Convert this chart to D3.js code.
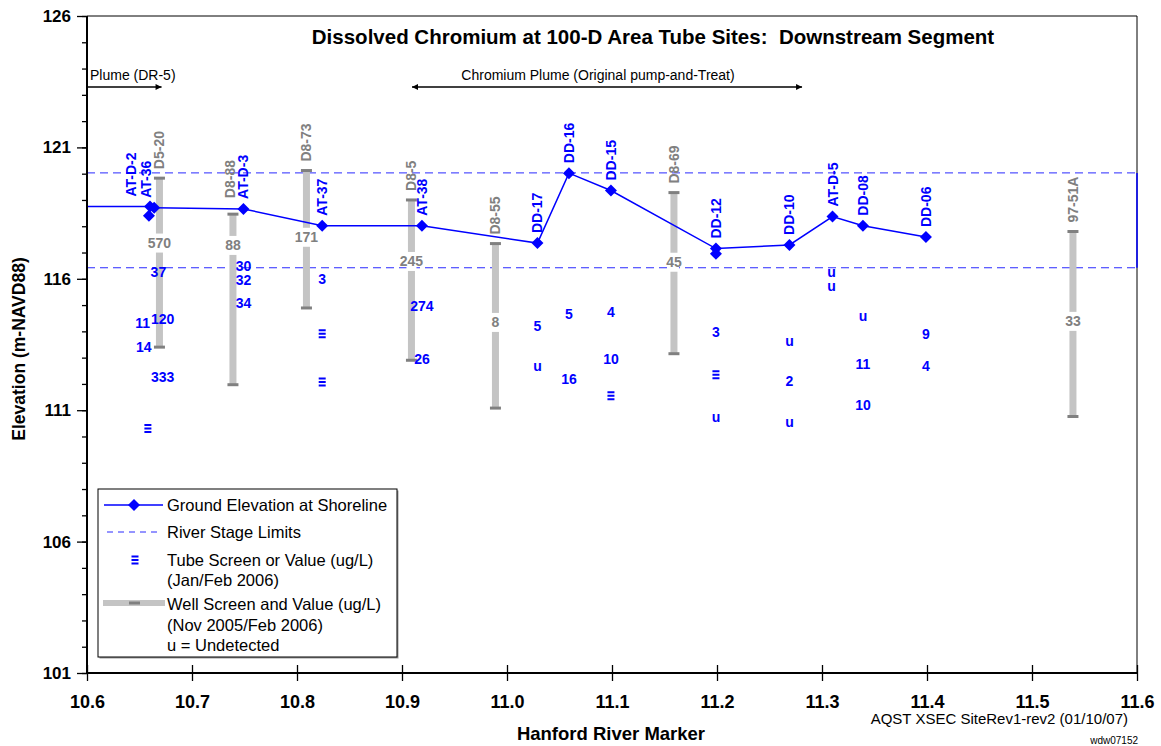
<!DOCTYPE html>
<html>
<head>
<meta charset="utf-8">
<script src="https://cdn.jsdelivr.net/npm/d3@7"></script>
<style>
body { margin: 0; background: #fff; }
svg text { font-family: "Liberation Sans", Arial, sans-serif; }
</style>
</head>
<body>
<div id="chart"></div>
<script>
//ground elevation at shoreline (tube sites), first point only starts the line
const groundSite = [null, "AT-D-2", "AT-36", "AT-D-3", "AT-37", "AT-38", "DD-17", "DD-16", "DD-15", "DD-12", "DD-10", "AT-D-5", "DD-08", "DD-06"];
const groundRM   = [10.600, 10.660, 10.664, 10.749, 10.824, 10.919, 11.029, 11.059, 11.099, 11.199, 11.269, 11.310, 11.339, 11.399];
const groundElev = [118.75, 118.75, 118.70, 118.66, 118.02, 118.02, 117.36, 120.02, 119.36, 117.15, 117.29, 118.37, 118.02, 117.59];
//second tube at the same site, not on the line
const extraRM   = [10.659, 11.199];
const extraElev = [118.40, 116.95];

//river stage limits
const riverStage = [120.03, 116.42];

//wells: screen top / bottom and value
const wellSite   = ["D5-20", "D8-88", "D8-73", "D8-5", "D8-55", "D8-69", "97-51A"];
const wellRM     = [10.669, 10.739, 10.809, 10.909, 10.989, 11.159, 11.539];
const wellTop    = [119.83, 118.46, 120.12, 119.00, 117.34, 119.28, 117.80];
const wellBottom = [113.40, 111.97, 114.89, 112.90, 111.08, 113.15, 110.76];
const wellValue  = ["570", "88", "171", "245", "8", "45", "33"];
const wellValueElev = [117.36, 117.27, 117.58, 116.66, 114.34, 116.63, 114.38];

//tube values ("s" = tube screen without value)
const tubeValRM   = [10.653, 10.654, 10.658, 10.668, 10.672, 10.672,
                     10.749, 10.749, 10.749, 10.824, 10.824, 10.824,
                     10.919, 10.919, 11.029, 11.029, 11.059, 11.059,
                     11.099, 11.099, 11.099, 11.199, 11.199, 11.199,
                     11.269, 11.269, 11.269, 11.309, 11.309,
                     11.339, 11.339, 11.339, 11.399, 11.399];
const tubeValElev = [114.33, 113.41, 110.30, 116.27, 114.48, 112.27,
                     116.47, 115.96, 115.08, 116.00, 113.91, 112.07,
                     114.95, 112.95, 114.22, 112.70, 114.67, 112.19,
                     114.73, 112.96, 111.55, 113.97, 112.35, 110.73,
                     113.62, 112.12, 110.55, 116.25, 115.71,
                     114.59, 112.77, 111.21, 113.91, 112.67];
const tubeValText = ["11", "14", "s", "37", "120", "333",
                     "30", "32", "34", "3", "s", "s",
                     "274", "26", "5", "u", "5", "16",
                     "4", "10", "s", "3", "s", "u",
                     "u", "2", "u", "u", "u",
                     "u", "11", "10", "9", "4"];

//plume annotations
const annoText  = ["Plume (DR-5)", "Chromium Plume (Original pump-and-Treat)"];
const annoStart = [10.600, 10.9095];
const annoEnd   = [10.671, 11.281];

const xTicks = [10.6, 10.7, 10.8, 10.9, 11.0, 11.1, 11.2, 11.3, 11.4, 11.5, 11.6];
const yTicks = [101, 106, 111, 116, 121, 126];

const width = 1161;
const height = 746;
const pLeft = 87, pRight = 1137, pTop = 16, pBottom = 673;
const blue = "#0000ff";
const grey = "#808080";

const svg = d3.select("#chart")
    .append("svg")
    .attr("width", width)
    .attr("height", height);

const x = d3.scaleLinear().domain([10.6, 11.6]).range([pLeft, pRight]);
const y = d3.scaleLinear().domain([101, 126]).range([pBottom, pTop]);

//arrow heads
const defs = svg.append("defs");
defs.append("marker")
    .attr("id", "arrowEnd")
    .attr("viewBox", "0 0 10 10")
    .attr("refX", 10).attr("refY", 5)
    .attr("markerWidth", 7).attr("markerHeight", 6)
    .attr("markerUnits", "userSpaceOnUse")
    .attr("orient", "auto")
    .append("path").attr("d", "M0,0L10,5L0,10Z").attr("fill", "#000");
defs.append("marker")
    .attr("id", "arrowStart")
    .attr("viewBox", "0 0 10 10")
    .attr("refX", 0).attr("refY", 5)
    .attr("markerWidth", 7).attr("markerHeight", 6)
    .attr("markerUnits", "userSpaceOnUse")
    .attr("orient", "auto")
    .append("path").attr("d", "M10,0L0,5L10,10Z").attr("fill", "#000");

//frame (top and right)
svg.append("path")
    .attr("d", `M${pLeft},${pTop}H${pRight}V${pBottom}`)
    .attr("fill", "none")
    .attr("stroke", "#000")
    .attr("stroke-width", 1);

//river stage limits
svg.selectAll(".stage")
    .data(riverStage)
    .enter()
    .append("line")
    .attr("class", "stage")
    .attr("x1", pLeft).attr("x2", pRight)
    .attr("y1", d => y(d)).attr("y2", d => y(d))
    .attr("stroke", "#2a2aff")
    .attr("stroke-width", 1)
    .attr("stroke-dasharray", "8,5");
svg.append("line")
    .attr("x1", pRight).attr("x2", pRight)
    .attr("y1", y(riverStage[0])).attr("y2", y(riverStage[1]))
    .attr("stroke", blue)
    .attr("stroke-width", 1.5);

//wells
wellSite.forEach(function (s, i) {
    const cx = x(wellRM[i]);
    svg.append("rect")
        .attr("x", cx - 3.5)
        .attr("y", y(wellTop[i]))
        .attr("width", 7)
        .attr("height", y(wellBottom[i]) - y(wellTop[i]))
        .attr("fill", "#c4c4c4");
    [wellTop[i], wellBottom[i]].forEach(function (e) {
        svg.append("rect")
            .attr("x", cx - 5.5)
            .attr("y", y(e) - 1.5)
            .attr("width", 11)
            .attr("height", 3)
            .attr("fill", grey);
    });
    //white gap behind the value
    svg.append("rect")
        .attr("x", cx - 5)
        .attr("y", y(wellValueElev[i]) - 9.5)
        .attr("width", 10)
        .attr("height", 19)
        .attr("fill", "#fff");
    svg.append("text")
        .attr("x", cx)
        .attr("y", y(wellValueElev[i]))
        .attr("dy", "0.36em")
        .attr("text-anchor", "middle")
        .attr("font-size", 14)
        .attr("font-weight", "bold")
        .attr("fill", grey)
        .text(wellValue[i]);
});

//site labels, small nudges where labels crowd
const nudge = { "AT-D-2": [-19, 0], "AT-36": [-8, 0], "D8-88": [-3, -7] };
function siteLabel(name, rm, e, gap, color) {
    const n = nudge[name] || [0, 0];
    const lx = x(rm) + n[0];
    const ly = y(e) - gap + n[1];
    svg.append("text")
        .attr("transform", `translate(${lx},${ly}) rotate(-90)`)
        .attr("dy", "0.36em")
        .attr("font-size", 14)
        .attr("font-weight", "bold")
        .attr("fill", color)
        .text(name);
}
wellSite.forEach((s, i) => siteLabel(s, wellRM[i], wellTop[i], 9, grey));
groundSite.forEach(function (s, i) {
    if (s) siteLabel(s, groundRM[i], groundElev[i], 10, blue);
});

//tube values
const screenIcon = "M-3.5,-4.5h7v2h-7zM-3.5,-1h7v2h-7zM-3.5,2.5h7v2h-7z";
tubeValText.forEach(function (t, i) {
    const cx = x(tubeValRM[i]);
    const cy = y(tubeValElev[i]);
    if (t === "s") {
        svg.append("path")
            .attr("transform", `translate(${cx},${cy})`)
            .attr("d", screenIcon)
            .attr("fill", blue);
    } else {
        svg.append("text")
            .attr("x", cx)
            .attr("y", cy)
            .attr("dy", "0.36em")
            .attr("text-anchor", "middle")
            .attr("font-size", 14)
            .attr("font-weight", "bold")
            .attr("fill", blue)
            .text(t);
    }
});

//ground elevation line
const groundPts = groundRM.map((r, i) => [r, groundElev[i]]);
svg.append("path")
    .datum(groundPts)
    .attr("d", d3.line().x(d => x(d[0])).y(d => y(d[1])))
    .attr("fill", "none")
    .attr("stroke", blue)
    .attr("stroke-width", 1.5);

const diamond = "M0,-6L6,0L0,6L-6,0Z";
const markerPts = groundPts.filter((d, i) => groundSite[i])
    .concat(extraRM.map((r, i) => [r, extraElev[i]]));
svg.selectAll(".diamond")
    .data(markerPts)
    .enter()
    .append("path")
    .attr("class", "diamond")
    .attr("transform", d => `translate(${x(d[0])},${y(d[1])})`)
    .attr("d", diamond)
    .attr("fill", blue);

//plume arrows
annoText.forEach(function (t, i) {
    const line = svg.append("line")
        .attr("x1", x(annoStart[i])).attr("x2", x(annoEnd[i]))
        .attr("y1", 87).attr("y2", 87)
        .attr("stroke", "#000")
        .attr("stroke-width", 1.3)
        .attr("marker-end", "url(#arrowEnd)");
    if (i > 0) line.attr("marker-start", "url(#arrowStart)");
    svg.append("text")
        .attr("x", i > 0 ? (x(annoStart[i]) + x(annoEnd[i])) / 2 - 9 : x(annoStart[i]) + 3)
        .attr("y", 80)
        .attr("text-anchor", i > 0 ? "middle" : "start")
        .attr("font-size", 14)
        .attr("fill", "#000")
        .text(t);
});

//axes
const yAxis = svg.append("g")
    .attr("transform", `translate(${pLeft},0)`)
    .call(d3.axisLeft(y).tickValues(d3.range(101, 127, 1)).tickSize(5).tickFormat(""));
yAxis.select(".domain").remove();
const yMajor = svg.append("g")
    .attr("transform", `translate(${pLeft},0)`)
    .call(d3.axisLeft(y).tickValues(yTicks).tickSize(10).tickPadding(6).tickFormat(d3.format("d")));
yMajor.select(".domain").attr("stroke-width", 2).attr("d", `M0,${pTop}V${pBottom}`);
yMajor.selectAll("text")
    .attr("font-size", 17)
    .attr("font-weight", "bold")
    .attr("fill", "#000")
    .style("font-family", "'Liberation Sans', Arial, sans-serif");
svg.selectAll("g.tick line").attr("stroke-width", 1.3);

const xAxis = svg.append("g")
    .attr("transform", `translate(0,${pBottom})`)
    .call(d3.axisBottom(x).tickValues(xTicks).tickSize(8).tickPadding(14).tickFormat(d3.format(".1f")));
xAxis.select(".domain").attr("stroke-width", 2).attr("d", `M${pLeft},0H${pRight}`);
xAxis.selectAll(".tick line").attr("y1", -8).attr("y2", 8).attr("stroke-width", 1.3);
xAxis.selectAll("text")
    .attr("font-size", 18)
    .attr("font-weight", "bold")
    .attr("fill", "#000")
    .style("font-family", "'Liberation Sans', Arial, sans-serif");

//titles
svg.append("text")
    .attr("x", 653)
    .attr("y", 44)
    .attr("text-anchor", "middle")
    .attr("font-size", 20.5)
    .attr("font-weight", "bold")
    .style("white-space", "pre")
    .text("Dissolved Chromium at 100-D Area Tube Sites:  Downstream Segment");

svg.append("text")
    .attr("x", 611)
    .attr("y", 740)
    .attr("text-anchor", "middle")
    .attr("font-size", 18.5)
    .attr("font-weight", "bold")
    .text("Hanford River Marker");

svg.append("text")
    .attr("transform", "translate(25,349) rotate(-90)")
    .attr("text-anchor", "middle")
    .attr("font-size", 17.5)
    .attr("font-weight", "bold")
    .text("Elevation (m-NAVD88)");

svg.append("text")
    .attr("x", 1128)
    .attr("y", 724)
    .attr("text-anchor", "end")
    .attr("font-size", 15)
    .text("AQST XSEC SiteRev1-rev2 (01/10/07)");

svg.append("text")
    .attr("x", 1138)
    .attr("y", 744)
    .attr("text-anchor", "end")
    .attr("font-size", 10)
    .text("wdw07152");

//legend
const lg = svg.append("g");
lg.append("rect")
    .attr("x", 99.5).attr("y", 490.5)
    .attr("width", 299).attr("height", 168)
    .attr("fill", "#999");
lg.append("rect")
    .attr("x", 98).attr("y", 489)
    .attr("width", 299).attr("height", 168)
    .attr("fill", "#fff")
    .attr("stroke", "#000")
    .attr("stroke-width", 1);

lg.append("line")
    .attr("x1", 104).attr("x2", 163).attr("y1", 505).attr("y2", 505)
    .attr("stroke", blue).attr("stroke-width", 1.5);
lg.append("path")
    .attr("transform", "translate(134,505)")
    .attr("d", diamond)
    .attr("fill", blue);
lg.append("line")
    .attr("x1", 107).attr("x2", 162).attr("y1", 532).attr("y2", 532)
    .attr("stroke", "#2a2aff").attr("stroke-width", 1)
    .attr("stroke-dasharray", "6,5");
lg.append("path")
    .attr("transform", "translate(135,560)")
    .attr("d", screenIcon)
    .attr("fill", blue);
lg.append("rect")
    .attr("x", 103).attr("y", 600).attr("width", 62).attr("height", 6)
    .attr("fill", "#c4c4c4");
lg.append("rect")
    .attr("x", 129).attr("y", 601.5).attr("width", 11).attr("height", 3)
    .attr("fill", grey);

const legendLines = [
    ["Ground Elevation at Shoreline", 505],
    ["River Stage Limits", 532],
    ["Tube Screen or Value (ug/L)", 560],
    ["(Jan/Feb 2006)", 580],
    ["Well Screen and Value (ug/L)", 604],
    ["(Nov 2005/Feb 2006)", 625],
    ["u = Undetected", 645]
];
lg.selectAll(".lgText")
    .data(legendLines)
    .enter()
    .append("text")
    .attr("class", "lgText")
    .attr("x", 167)
    .attr("y", d => d[1])
    .attr("dy", "0.36em")
    .attr("font-size", 16.5)
    .attr("fill", "#000")
    .text(d => d[0]);
</script>
</body>
</html>
